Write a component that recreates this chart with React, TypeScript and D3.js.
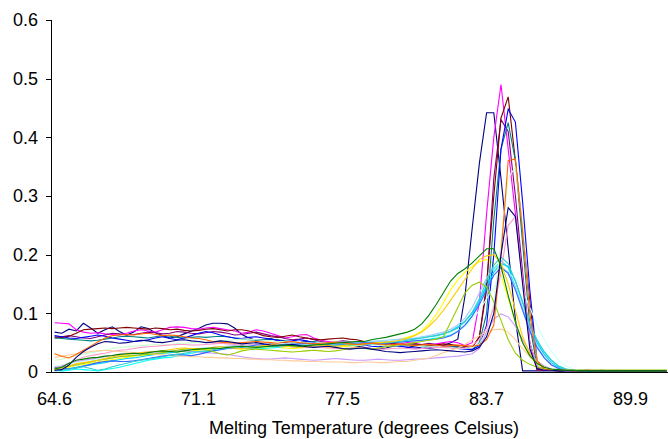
import React from "react";
import * as d3 from "d3";

// Temperature categories (°C), one per reading
const temps = [
  64.6, 64.9, 65.3, 65.6, 65.9, 66.2, 66.6, 66.9, 67.2, 67.5,
  67.9, 68.2, 68.5, 68.8, 69.2, 69.5, 69.8, 70.1, 70.5, 70.8,
  71.1, 71.4, 71.7, 72.1, 72.4, 72.7, 73.0, 73.3, 73.7, 74.0,
  74.3, 74.6, 74.9, 75.3, 75.6, 75.9, 76.2, 76.5, 76.9, 77.2,
  77.5, 77.8, 78.1, 78.4, 78.7, 79.1, 79.4, 79.7, 80.0, 80.3,
  80.6, 80.9, 81.2, 81.5, 81.8, 82.2, 82.5, 82.8, 83.1, 83.4,
  83.7, 84.0, 84.3, 84.6, 84.9, 85.3, 85.6, 85.9, 86.2, 86.5,
  86.8, 87.1, 87.4, 87.7, 88.0, 88.4, 88.7, 89.0, 89.3, 89.6,
  89.9, 90.2, 90.5, 90.8, 91.1, 91.4,
];

const tickIndices = [0, 20, 40, 60, 80];
const yTicks = [0, 0.1, 0.2, 0.3, 0.4, 0.5, 0.6];
const xTitle = "Melting Temperature (degrees Celsius)";

const navyA = [
  0.068, 0.066, 0.073, 0.070, 0.083, 0.075, 0.066, 0.072, 0.077, 0.069,
  0.063, 0.068, 0.077, 0.074, 0.067, 0.062, 0.058, 0.060, 0.065, 0.070,
  0.074, 0.080, 0.083, 0.083, 0.082, 0.075, 0.064, 0.058, 0.054, 0.055,
  0.057, 0.053, 0.050, 0.048, 0.050, 0.052, 0.049, 0.046, 0.044, 0.046,
  0.048, 0.047, 0.044, 0.042, 0.040, 0.039, 0.041, 0.044, 0.046, 0.045,
  0.043, 0.041, 0.040, 0.042, 0.045, 0.050, 0.056, 0.130, 0.245, 0.356,
  0.442, 0.442, 0.330, 0.210, 0.090, 0.002, 0.002, 0.002, 0.002, 0.002,
  0.002, 0.002, 0.002, 0.002, 0.002, 0.002, 0.002, 0.002, 0.002, 0.002,
  0.002, 0.002, 0.002, 0.002, 0.002, 0.002,
];

const magenta = [
  0.084, 0.083, 0.082, 0.072, 0.068, 0.066, 0.067, 0.065, 0.064, 0.063,
  0.066, 0.070, 0.072, 0.070, 0.068, 0.072, 0.076, 0.077, 0.076, 0.074,
  0.073, 0.075, 0.076, 0.074, 0.072, 0.070, 0.066, 0.068, 0.072, 0.070,
  0.066, 0.062, 0.058, 0.060, 0.063, 0.064, 0.058, 0.054, 0.052, 0.050,
  0.050, 0.052, 0.049, 0.046, 0.048, 0.050, 0.049, 0.047, 0.048, 0.050,
  0.049, 0.047, 0.046, 0.048, 0.050, 0.052, 0.050, 0.045, 0.050, 0.120,
  0.270, 0.400, 0.490, 0.380, 0.270, 0.160, 0.050, 0.004, 0.003, 0.003,
  0.003, 0.002, 0.002, 0.003, 0.003, 0.002, 0.002, 0.002, 0.003, 0.002,
  0.002, 0.002, 0.002, 0.002, 0.002, 0.002,
];

const darkRed = [
  0.060, 0.059, 0.061, 0.066, 0.072, 0.073, 0.074, 0.075, 0.074, 0.075,
  0.076, 0.075, 0.074, 0.073, 0.075, 0.074, 0.072, 0.073, 0.071, 0.070,
  0.071, 0.073, 0.074, 0.072, 0.070, 0.072, 0.072, 0.070, 0.066, 0.062,
  0.060, 0.059, 0.061, 0.063, 0.060, 0.058, 0.056, 0.055, 0.056, 0.057,
  0.058, 0.056, 0.055, 0.052, 0.050, 0.049, 0.051, 0.048, 0.046, 0.047,
  0.048, 0.046, 0.045, 0.046, 0.048, 0.047, 0.045, 0.044, 0.042, 0.060,
  0.150, 0.300, 0.433, 0.469, 0.360, 0.240, 0.120, 0.004, 0.003, 0.003,
  0.002, 0.002, 0.003, 0.002, 0.002, 0.002, 0.003, 0.002, 0.002, 0.002,
  0.002, 0.002, 0.002, 0.002, 0.002, 0.002,
];

const purple = [
  0.058, 0.060, 0.062, 0.060, 0.058, 0.057, 0.060, 0.063, 0.066, 0.065,
  0.063, 0.064, 0.066, 0.068, 0.067, 0.065, 0.066, 0.069, 0.068, 0.066,
  0.065, 0.067, 0.069, 0.068, 0.066, 0.063, 0.064, 0.066, 0.068, 0.065,
  0.062, 0.060, 0.057, 0.055, 0.056, 0.058, 0.055, 0.052, 0.050, 0.051,
  0.053, 0.052, 0.050, 0.048, 0.047, 0.048, 0.050, 0.049, 0.047, 0.046,
  0.045, 0.047, 0.049, 0.047, 0.045, 0.044, 0.043, 0.042, 0.041, 0.060,
  0.140, 0.330, 0.430, 0.410, 0.300, 0.170, 0.050, 0.008, 0.004, 0.003,
  0.003, 0.002, 0.002, 0.002, 0.003, 0.002, 0.002, 0.002, 0.002, 0.002,
  0.002, 0.002, 0.002, 0.002, 0.002, 0.002,
];

const teal = [
  0.058, 0.057, 0.056, 0.055, 0.054, 0.053, 0.054, 0.056, 0.058, 0.060,
  0.061, 0.060, 0.059, 0.058, 0.060, 0.062, 0.061, 0.059, 0.058, 0.059,
  0.060, 0.059, 0.060, 0.061, 0.060, 0.058, 0.056, 0.055, 0.054, 0.055,
  0.056, 0.055, 0.053, 0.051, 0.050, 0.051, 0.052, 0.050, 0.048, 0.049,
  0.050, 0.049, 0.047, 0.046, 0.047, 0.048, 0.047, 0.045, 0.044, 0.045,
  0.046, 0.045, 0.043, 0.042, 0.043, 0.044, 0.042, 0.040, 0.038, 0.050,
  0.100, 0.260, 0.380, 0.425, 0.360, 0.220, 0.080, 0.010, 0.004, 0.003,
  0.003, 0.003, 0.002, 0.002, 0.002, 0.003, 0.002, 0.002, 0.002, 0.002,
  0.002, 0.002, 0.002, 0.002, 0.002, 0.002,
];

const blue = [
  0.062, 0.060, 0.058, 0.057, 0.059, 0.061, 0.063, 0.061, 0.058, 0.056,
  0.054, 0.052, 0.053, 0.055, 0.058, 0.060, 0.057, 0.055, 0.058, 0.062,
  0.066, 0.069, 0.067, 0.063, 0.060, 0.058, 0.057, 0.059, 0.060, 0.058,
  0.056, 0.054, 0.052, 0.053, 0.055, 0.053, 0.050, 0.048, 0.047, 0.049,
  0.051, 0.050, 0.048, 0.046, 0.044, 0.043, 0.045, 0.046, 0.044, 0.042,
  0.041, 0.040, 0.041, 0.043, 0.044, 0.042, 0.040, 0.039, 0.038, 0.045,
  0.080, 0.200, 0.380, 0.448, 0.426, 0.290, 0.140, 0.020, 0.004, 0.003,
  0.003, 0.002, 0.002, 0.002, 0.002, 0.002, 0.003, 0.002, 0.002, 0.002,
  0.002, 0.002, 0.002, 0.002, 0.002, 0.002,
];

const navyB = [
  0.003, 0.004, 0.012, 0.025, 0.035, 0.042, 0.048, 0.052, 0.051, 0.049,
  0.050, 0.052, 0.054, 0.053, 0.051, 0.050, 0.052, 0.054, 0.055, 0.053,
  0.052, 0.050, 0.051, 0.053, 0.052, 0.050, 0.048, 0.049, 0.050, 0.048,
  0.046, 0.045, 0.046, 0.047, 0.045, 0.043, 0.042, 0.043, 0.044, 0.042,
  0.040, 0.039, 0.040, 0.041, 0.039, 0.037, 0.035, 0.034, 0.033, 0.034,
  0.035, 0.036, 0.037, 0.038, 0.037, 0.036, 0.035, 0.034, 0.036, 0.042,
  0.060, 0.100, 0.200, 0.280, 0.265, 0.150, 0.040, 0.006, 0.003, 0.003,
  0.002, 0.002, 0.002, 0.002, 0.002, 0.002, 0.002, 0.002, 0.002, 0.002,
  0.002, 0.002, 0.002, 0.002, 0.002, 0.002,
];

const orange = [
  0.031, 0.027, 0.024, 0.030, 0.037, 0.044, 0.051, 0.058, 0.062, 0.063,
  0.064, 0.063, 0.065, 0.066, 0.064, 0.062, 0.063, 0.062, 0.060, 0.058,
  0.057, 0.055, 0.052, 0.051, 0.050, 0.049, 0.050, 0.051, 0.052, 0.051,
  0.050, 0.049, 0.051, 0.052, 0.050, 0.049, 0.048, 0.049, 0.050, 0.051,
  0.050, 0.048, 0.047, 0.048, 0.049, 0.048, 0.046, 0.047, 0.048, 0.046,
  0.045, 0.046, 0.047, 0.046, 0.044, 0.045, 0.046, 0.045, 0.044, 0.046,
  0.055, 0.080, 0.200, 0.360, 0.363, 0.240, 0.100, 0.020, 0.005, 0.003,
  0.003, 0.003, 0.002, 0.002, 0.003, 0.002, 0.002, 0.002, 0.002, 0.002,
  0.002, 0.002, 0.002, 0.002, 0.002, 0.002,
];

const lightGreen = [
  0.020, 0.022, 0.025, 0.028, 0.030, 0.033, 0.035, 0.037, 0.040, 0.042,
  0.043, 0.044, 0.045, 0.046, 0.047, 0.046, 0.047, 0.048, 0.049, 0.050,
  0.050, 0.051, 0.052, 0.053, 0.054, 0.055, 0.056, 0.056, 0.055, 0.054,
  0.053, 0.052, 0.052, 0.051, 0.050, 0.050, 0.049, 0.049, 0.048, 0.048,
  0.047, 0.047, 0.046, 0.046, 0.047, 0.046, 0.045, 0.045, 0.046, 0.046,
  0.045, 0.045, 0.044, 0.044, 0.043, 0.042, 0.040, 0.040, 0.042, 0.048,
  0.070, 0.120, 0.220, 0.330, 0.350, 0.250, 0.100, 0.020, 0.005, 0.003,
  0.003, 0.002, 0.002, 0.002, 0.002, 0.002, 0.002, 0.002, 0.002, 0.002,
  0.002, 0.002, 0.002, 0.002, 0.002, 0.002,
];

const rose = [
  0.008, 0.010, 0.015, 0.020, 0.025, 0.028, 0.030, 0.032, 0.035, 0.037,
  0.038, 0.040, 0.042, 0.043, 0.044, 0.045, 0.046, 0.047, 0.047, 0.046,
  0.046, 0.047, 0.048, 0.049, 0.048, 0.047, 0.046, 0.046, 0.047, 0.046,
  0.045, 0.044, 0.044, 0.043, 0.042, 0.042, 0.043, 0.042, 0.041, 0.040,
  0.040, 0.041, 0.042, 0.041, 0.040, 0.039, 0.039, 0.040, 0.041, 0.040,
  0.039, 0.040, 0.041, 0.042, 0.042, 0.041, 0.040, 0.041, 0.045, 0.055,
  0.075, 0.110, 0.170, 0.250, 0.265, 0.160, 0.050, 0.010, 0.004, 0.003,
  0.003, 0.002, 0.002, 0.002, 0.002, 0.002, 0.002, 0.002, 0.002, 0.002,
  0.002, 0.002, 0.002, 0.002, 0.002, 0.002,
];

const green = [
  0.005, 0.008, 0.015, 0.020, 0.022, 0.024, 0.025, 0.027, 0.028, 0.030,
  0.031, 0.032, 0.031, 0.033, 0.035, 0.036, 0.035, 0.034, 0.036, 0.038,
  0.039, 0.040, 0.041, 0.040, 0.042, 0.043, 0.044, 0.043, 0.042, 0.043,
  0.044, 0.045, 0.046, 0.045, 0.044, 0.045, 0.046, 0.047, 0.048, 0.049,
  0.050, 0.051, 0.052, 0.052, 0.055, 0.057, 0.059, 0.062, 0.065, 0.068,
  0.073, 0.082, 0.097, 0.115, 0.135, 0.155, 0.168, 0.176, 0.186, 0.198,
  0.210, 0.210, 0.180, 0.130, 0.085, 0.050, 0.028, 0.015, 0.008, 0.005,
  0.004, 0.003, 0.003, 0.002, 0.002, 0.002, 0.002, 0.002, 0.002, 0.002,
  0.002, 0.002, 0.002, 0.002, 0.002, 0.002,
];

const gold = [
  0.004, 0.006, 0.010, 0.014, 0.016, 0.018, 0.020, 0.023, 0.026, 0.028,
  0.030, 0.031, 0.033, 0.034, 0.035, 0.036, 0.038, 0.040, 0.041, 0.040,
  0.039, 0.040, 0.042, 0.043, 0.042, 0.041, 0.040, 0.041, 0.043, 0.045,
  0.047, 0.046, 0.044, 0.043, 0.042, 0.043, 0.045, 0.046, 0.045, 0.044,
  0.045, 0.046, 0.047, 0.048, 0.049, 0.050, 0.051, 0.052, 0.054, 0.057,
  0.062, 0.068, 0.078, 0.090, 0.105, 0.122, 0.140, 0.158, 0.176, 0.192,
  0.198, 0.200, 0.185, 0.150, 0.105, 0.060, 0.032, 0.016, 0.008, 0.004,
  0.003, 0.003, 0.003, 0.003, 0.003, 0.003, 0.003, 0.003, 0.003, 0.003,
  0.003, 0.003, 0.003, 0.003, 0.003, 0.003,
];

const yellow = [
  0.003, 0.005, 0.008, 0.011, 0.013, 0.015, 0.017, 0.019, 0.021, 0.023,
  0.025, 0.027, 0.028, 0.030, 0.031, 0.032, 0.033, 0.034, 0.035, 0.036,
  0.037, 0.038, 0.039, 0.040, 0.041, 0.040, 0.039, 0.040, 0.041, 0.042,
  0.043, 0.042, 0.041, 0.040, 0.041, 0.042, 0.043, 0.042, 0.041, 0.042,
  0.043, 0.044, 0.045, 0.046, 0.048, 0.050, 0.052, 0.054, 0.056, 0.059,
  0.063, 0.070, 0.082, 0.098, 0.118, 0.140, 0.157, 0.170, 0.180, 0.188,
  0.192, 0.185, 0.165, 0.125, 0.085, 0.050, 0.026, 0.013, 0.006, 0.003,
  0.003, 0.003, 0.003, 0.003, 0.003, 0.003, 0.003, 0.003, 0.003, 0.003,
  0.003, 0.003, 0.003, 0.003, 0.003, 0.003,
];

const lime = [
  0.006, 0.008, 0.010, 0.013, 0.015, 0.017, 0.020, 0.022, 0.024, 0.026,
  0.027, 0.028, 0.029, 0.030, 0.031, 0.033, 0.035, 0.037, 0.039, 0.040,
  0.040, 0.038, 0.035, 0.031, 0.029, 0.032, 0.036, 0.038, 0.039, 0.038,
  0.037, 0.036, 0.035, 0.034, 0.035, 0.036, 0.037, 0.036, 0.035, 0.036,
  0.038, 0.040, 0.041, 0.040, 0.039, 0.041, 0.043, 0.045, 0.047, 0.048,
  0.050, 0.052, 0.054, 0.056, 0.060, 0.085, 0.110, 0.135, 0.148, 0.153,
  0.145, 0.120, 0.088, 0.055, 0.032, 0.020, 0.013, 0.008, 0.005, 0.003,
  0.003, 0.003, 0.003, 0.003, 0.003, 0.003, 0.003, 0.003, 0.003, 0.003,
  0.003, 0.003, 0.003, 0.003, 0.003, 0.003,
];

const cyan = [
  0.003, 0.002, 0.003, 0.005, 0.004, 0.003, 0.002, 0.004, 0.006, 0.008,
  0.011, 0.014, 0.017, 0.020, 0.022, 0.024, 0.025, 0.027, 0.030, 0.032,
  0.034, 0.035, 0.036, 0.038, 0.040, 0.042, 0.043, 0.042, 0.041, 0.040,
  0.041, 0.042, 0.044, 0.045, 0.046, 0.045, 0.044, 0.045, 0.046, 0.047,
  0.046, 0.045, 0.046, 0.047, 0.048, 0.049, 0.050, 0.051, 0.052, 0.053,
  0.054, 0.055, 0.056, 0.058, 0.060, 0.064, 0.070, 0.080, 0.096, 0.120,
  0.150, 0.175, 0.190, 0.178, 0.145, 0.108, 0.075, 0.052, 0.035, 0.020,
  0.010, 0.005, 0.003, 0.003, 0.003, 0.002, 0.002, 0.002, 0.002, 0.002,
  0.002, 0.002, 0.002, 0.002, 0.002, 0.002,
];

const skyBlue = [
  0.004, 0.005, 0.006, 0.008, 0.010, 0.012, 0.014, 0.016, 0.019, 0.021,
  0.023, 0.024, 0.026, 0.028, 0.030, 0.032, 0.033, 0.034, 0.036, 0.038,
  0.039, 0.040, 0.041, 0.042, 0.043, 0.044, 0.045, 0.046, 0.045, 0.044,
  0.045, 0.046, 0.047, 0.048, 0.047, 0.046, 0.047, 0.048, 0.049, 0.050,
  0.049, 0.048, 0.049, 0.050, 0.051, 0.052, 0.053, 0.054, 0.055, 0.056,
  0.057, 0.058, 0.060, 0.062, 0.065, 0.070, 0.077, 0.087, 0.100, 0.120,
  0.145, 0.170, 0.185, 0.180, 0.155, 0.120, 0.082, 0.050, 0.030, 0.016,
  0.008, 0.004, 0.003, 0.003, 0.002, 0.002, 0.002, 0.002, 0.002, 0.002,
  0.002, 0.002, 0.002, 0.002, 0.002, 0.002,
];

const aqua = [
  0.002, 0.003, 0.005, 0.007, 0.009, 0.006, 0.003, 0.005, 0.009, 0.012,
  0.015, 0.018, 0.020, 0.022, 0.024, 0.026, 0.028, 0.030, 0.032, 0.034,
  0.035, 0.036, 0.038, 0.040, 0.041, 0.042, 0.041, 0.040, 0.041, 0.043,
  0.044, 0.045, 0.044, 0.043, 0.044, 0.045, 0.046, 0.047, 0.046, 0.045,
  0.046, 0.047, 0.048, 0.047, 0.048, 0.049, 0.050, 0.051, 0.052, 0.054,
  0.056, 0.058, 0.060, 0.062, 0.065, 0.069, 0.075, 0.086, 0.102, 0.125,
  0.155, 0.182, 0.196, 0.185, 0.155, 0.118, 0.082, 0.055, 0.034, 0.020,
  0.010, 0.005, 0.003, 0.003, 0.003, 0.003, 0.003, 0.003, 0.003, 0.003,
  0.003, 0.003, 0.003, 0.003, 0.003, 0.003,
];

const lightBlue = [
  0.008, 0.006, 0.005, 0.007, 0.010, 0.013, 0.016, 0.018, 0.019, 0.018,
  0.018, 0.019, 0.021, 0.023, 0.025, 0.027, 0.029, 0.030, 0.029, 0.028,
  0.030, 0.033, 0.036, 0.038, 0.040, 0.041, 0.042, 0.044, 0.046, 0.047,
  0.048, 0.047, 0.046, 0.047, 0.048, 0.049, 0.048, 0.046, 0.045, 0.046,
  0.047, 0.048, 0.049, 0.050, 0.049, 0.048, 0.049, 0.050, 0.051, 0.052,
  0.053, 0.054, 0.055, 0.056, 0.058, 0.062, 0.069, 0.080, 0.095, 0.115,
  0.140, 0.165, 0.178, 0.168, 0.140, 0.105, 0.070, 0.042, 0.024, 0.012,
  0.006, 0.003, 0.003, 0.002, 0.002, 0.002, 0.002, 0.002, 0.002, 0.002,
  0.002, 0.002, 0.002, 0.002, 0.002, 0.002,
];

const paleBlue = [
  0.005, 0.007, 0.010, 0.012, 0.015, 0.018, 0.020, 0.022, 0.024, 0.026,
  0.027, 0.029, 0.030, 0.032, 0.033, 0.035, 0.036, 0.037, 0.038, 0.039,
  0.040, 0.041, 0.042, 0.043, 0.044, 0.045, 0.044, 0.043, 0.044, 0.045,
  0.046, 0.047, 0.048, 0.049, 0.048, 0.047, 0.048, 0.049, 0.050, 0.049,
  0.048, 0.049, 0.050, 0.051, 0.052, 0.053, 0.054, 0.055, 0.056, 0.057,
  0.058, 0.060, 0.062, 0.065, 0.068, 0.073, 0.080, 0.092, 0.110, 0.135,
  0.160, 0.178, 0.180, 0.170, 0.145, 0.110, 0.075, 0.045, 0.025, 0.013,
  0.006, 0.003, 0.003, 0.002, 0.002, 0.002, 0.002, 0.002, 0.002, 0.002,
  0.002, 0.002, 0.002, 0.002, 0.002, 0.002,
];

const lightTurquoise = [
  0.010, 0.012, 0.014, 0.016, 0.018, 0.020, 0.022, 0.024, 0.026, 0.028,
  0.030, 0.031, 0.032, 0.033, 0.034, 0.035, 0.036, 0.037, 0.038, 0.039,
  0.040, 0.041, 0.042, 0.042, 0.043, 0.044, 0.044, 0.045, 0.045, 0.046,
  0.046, 0.047, 0.047, 0.048, 0.048, 0.049, 0.049, 0.050, 0.050, 0.051,
  0.051, 0.051, 0.052, 0.052, 0.053, 0.053, 0.053, 0.054, 0.054, 0.054,
  0.055, 0.056, 0.058, 0.060, 0.062, 0.065, 0.070, 0.078, 0.090, 0.105,
  0.125, 0.145, 0.160, 0.168, 0.160, 0.140, 0.110, 0.080, 0.055, 0.035,
  0.020, 0.010, 0.005, 0.003, 0.003, 0.003, 0.003, 0.003, 0.003, 0.003,
  0.003, 0.003, 0.003, 0.003, 0.003, 0.003,
];

const lavender = [
  0.006, 0.010, 0.015, 0.018, 0.020, 0.022, 0.024, 0.026, 0.028, 0.030,
  0.031, 0.032, 0.033, 0.034, 0.034, 0.035, 0.035, 0.036, 0.036, 0.035,
  0.034, 0.033, 0.032, 0.031, 0.030, 0.028, 0.026, 0.024, 0.023, 0.022,
  0.022, 0.023, 0.024, 0.023, 0.022, 0.021, 0.020, 0.021, 0.022, 0.023,
  0.022, 0.021, 0.020, 0.020, 0.021, 0.022, 0.021, 0.020, 0.020, 0.021,
  0.022, 0.022, 0.023, 0.024, 0.025, 0.026, 0.027, 0.029, 0.031, 0.040,
  0.068, 0.090, 0.099, 0.094, 0.078, 0.055, 0.034, 0.019, 0.010, 0.005,
  0.003, 0.003, 0.002, 0.002, 0.002, 0.002, 0.002, 0.002, 0.002, 0.002,
  0.002, 0.002, 0.002, 0.002, 0.002, 0.002,
];

const tan = [
  0.025, 0.027, 0.029, 0.031, 0.033, 0.035, 0.036, 0.037, 0.036, 0.035,
  0.034, 0.033, 0.032, 0.031, 0.030, 0.029, 0.028, 0.027, 0.027, 0.026,
  0.026, 0.025, 0.025, 0.024, 0.024, 0.023, 0.023, 0.022, 0.022, 0.021,
  0.021, 0.020, 0.020, 0.019, 0.019, 0.018, 0.018, 0.018, 0.017, 0.017,
  0.017, 0.016, 0.016, 0.017, 0.017, 0.016, 0.016, 0.017, 0.018, 0.018,
  0.020, 0.022, 0.024, 0.028, 0.033, 0.037, 0.041, 0.047, 0.055, 0.062,
  0.068, 0.072, 0.073, 0.068, 0.055, 0.040, 0.026, 0.015, 0.008, 0.004,
  0.003, 0.003, 0.002, 0.002, 0.002, 0.002, 0.002, 0.002, 0.002, 0.002,
  0.002, 0.002, 0.002, 0.002, 0.002, 0.002,
];

const seriesList = [
  { name: "Well 1", values: navyA, color: "#000080" },
  { name: "Well 2", values: magenta, color: "#FF00FF" },
  { name: "Well 3", values: yellow, color: "#FFFF00" },
  { name: "Well 4", values: cyan, color: "#00FFFF" },
  { name: "Well 5", values: purple, color: "#800080" },
  { name: "Well 6", values: darkRed, color: "#800000" },
  { name: "Well 7", values: teal, color: "#008080" },
  { name: "Well 8", values: blue, color: "#0000FF" },
  { name: "Well 9", values: skyBlue, color: "#00CCFF" },
  { name: "Well 10", values: lightTurquoise, color: "#CCFFFF" },
  { name: "Well 11", values: lightGreen, color: "#CCFFCC" },
  { name: "Well 12", values: paleBlue, color: "#99CCFF" },
  { name: "Well 13", values: rose, color: "#FF99CC" },
  { name: "Well 14", values: lavender, color: "#CC99FF" },
  { name: "Well 15", values: tan, color: "#FFCC99" },
  { name: "Well 16", values: lightBlue, color: "#3366FF" },
  { name: "Well 17", values: aqua, color: "#33CCCC" },
  { name: "Well 18", values: lime, color: "#99CC00" },
  { name: "Well 19", values: gold, color: "#FFCC00" },
  { name: "Well 20", values: orange, color: "#FF6600" },
  { name: "Well 21", values: navyB, color: "#000080" },
  { name: "Well 22", values: green, color: "#008000" },
];

const W = 668;
const H = 439;
const left = 51;
const top = 20;
const bottom = 372;
const rightEnd = left + 7.2 * temps.length;
const font = "'Liberation Sans', Arial, Helvetica, sans-serif";

export default function App() {
  const x = d3
    .scalePoint<number>()
    .domain(d3.range(temps.length))
    .range([left, rightEnd])
    .padding(0.5);
  const y = d3.scaleLinear().domain([0, 0.6]).range([bottom, top]);
  const line = d3
    .line<number>()
    .x((_, i) => x(i) as number)
    .y((d) => y(d));

  return (
    <svg
      width={W}
      height={H}
      style={{ position: "absolute", left: 0, top: 0, background: "#fff" }}
    >
      <defs>
        <clipPath id="plotclip">
          <rect x={left} y={0} width={W - left} height={bottom + 1} />
        </clipPath>
      </defs>
      <g clipPath="url(#plotclip)">
        {seriesList.map((s) => (
          <path
            key={s.name}
            d={line(s.values) || ""}
            fill="none"
            stroke={s.color}
            strokeWidth={1.1}
            strokeLinejoin="miter"
          />
        ))}
      </g>
      {/* y axis */}
      <line x1={left + 0.5} x2={left + 0.5} y1={top} y2={bottom} stroke="#000" strokeWidth={1} />
      {yTicks.map((t) => (
        <g key={t}>
          <line
            x1={left - 5}
            x2={left}
            y1={Math.round(y(t)) + 0.5}
            y2={Math.round(y(t)) + 0.5}
            stroke="#000"
            strokeWidth={1}
          />
          <text
            x={38}
            y={y(t)}
            dy="0.35em"
            textAnchor="end"
            fontFamily={font}
            fontSize={18}
            fill="#000"
          >
            {t === 0 ? "0" : t.toFixed(1)}
          </text>
        </g>
      ))}
      {/* x axis */}
      <line x1={left} x2={W} y1={bottom + 0.5} y2={bottom + 0.5} stroke="#000" strokeWidth={1} />
      {tickIndices.map((i) => (
        <text
          key={i}
          x={x(i)}
          y={405}
          textAnchor="middle"
          fontFamily={font}
          fontSize={18}
          fill="#000"
        >
          {temps[i].toFixed(1)}
        </text>
      ))}
      <text
        x={364}
        y={434}
        textAnchor="middle"
        fontFamily={font}
        fontSize={18}
        fill="#000"
      >
        {xTitle}
      </text>
    </svg>
  );
}
